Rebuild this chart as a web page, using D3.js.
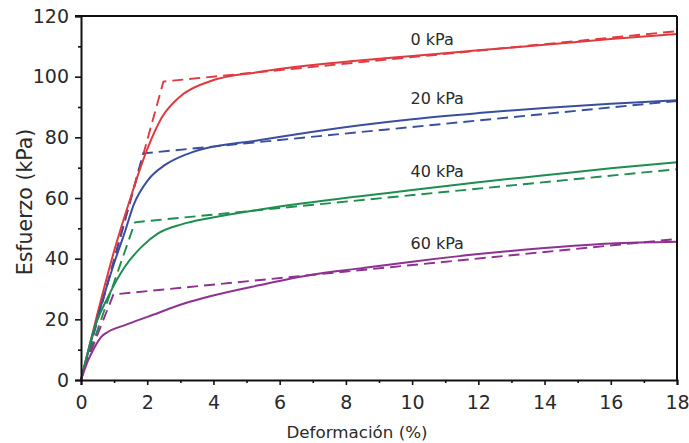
<!DOCTYPE html>
<html>
<head>
<meta charset="utf-8">
<script src="https://cdn.jsdelivr.net/npm/d3@7"></script>
<style>
  body { margin: 0; background: #fff; }
  svg { display: block; }
  text { font-family: "DejaVu Sans", sans-serif; fill: #2a2a2a; }
</style>
</head>
<body>
<svg id="chart" width="689" height="443"></svg>
<script>
// ---- Data ----
const xTicks = [0, 2, 4, 6, 8, 10, 12, 14, 16, 18];
const yTicks = [0, 20, 40, 60, 80, 100, 120];
const seriesNames = ["0 kPa", "20 kPa", "40 kPa", "60 kPa"];
const seriesColors = ["#e03a40", "#3a4e9e", "#1e8e50", "#8e3192"];

// measured curves (solid)
const strain0 = [0, 0.5, 1.0, 1.48, 1.98, 2.44, 3.0, 3.9, 5.4, 8.4, 10, 12, 14, 16, 18];
const stress0 = [0, 22, 42.5, 59.5, 75.5, 86.5, 93.5, 98.5, 101.6, 105.3, 106.8, 108.7, 110.5, 112.4, 114.1];

const strain20 = [0, 0.5, 1.0, 1.3, 1.6, 2.03, 2.54, 3.14, 3.39, 5.41, 8.43, 10, 12, 14, 16, 18];
const stress20 = [0, 20.5, 38.5, 48, 58, 66, 70.9, 74.2, 75.2, 79.1, 84, 86, 88, 89.7, 91.1, 92.2];

const strain40 = [0, 0.42, 0.82, 1.33, 1.83, 2.34, 3.04, 3.9, 5.41, 8.43, 10, 12, 14, 16, 18];
const stress40 = [0, 17.6, 27.5, 37.4, 43.9, 48.4, 51.3, 53.4, 56.2, 60.6, 62.6, 65.2, 67.5, 69.8, 71.8];

const strain60 = [0, 0.22, 0.42, 0.62, 0.82, 1.33, 2.03, 3.14, 3.9, 5.41, 6.92, 8.43, 10, 12, 14, 16, 18];
const stress60 = [0, 6.6, 11, 14.3, 15.9, 18.1, 20.9, 25.3, 27.6, 31.3, 34.6, 36.8, 39, 41.5, 43.5, 45, 45.6];

// bilinear idealisations (dashed)
const dashStrain0 = [0.1, 2.49, 18];
const dashStress0 = [4, 98.4, 115];
const dashStrain20 = [0.1, 1.88, 18];
const dashStress20 = [4, 74.7, 92];
const dashStrain40 = [0.1, 1.63, 18];
const dashStress40 = [4, 52, 69.5];
const dashStrain60 = [0.1, 0.98, 18];
const dashStress60 = [4, 28.2, 46.5];

// label anchors (data coords)
const labelX = [9.95, 9.95, 9.95, 9.95];
const labelY = [110.5, 91, 66.8, 43.3];

// ---- Chart ----
const W = 689, H = 443;
const margin = { left: 81, right: 12, top: 16, bottom: 63 };
const svg = d3.select("#chart");

const x = d3.scaleLinear().domain([0, 18]).range([margin.left, W - margin.right]);
const y = d3.scaleLinear().domain([0, 120]).range([H - margin.bottom, margin.top]);

const zip = (a, b) => a.map((v, i) => [v, b[i]]);
const solids = [zip(strain0, stress0), zip(strain20, stress20), zip(strain40, stress40), zip(strain60, stress60)];
const dashes = [zip(dashStrain0, dashStress0), zip(dashStrain20, dashStress20), zip(dashStrain40, dashStress40), zip(dashStrain60, dashStress60)];

const lineSmooth = d3.line().x(d => x(d[0])).y(d => y(d[1])).curve(d3.curveMonotoneX);
const lineStraight = d3.line().x(d => x(d[0])).y(d => y(d[1]));

// dashed lines
dashes.forEach((pts, i) => {
  svg.append("path").attr("d", lineStraight(pts))
    .attr("fill", "none").attr("stroke", seriesColors[i])
    .attr("stroke-width", 1.9).attr("stroke-dasharray", "11,6");
});
// solid lines
solids.forEach((pts, i) => {
  svg.append("path").attr("d", lineSmooth(pts))
    .attr("fill", "none").attr("stroke", seriesColors[i])
    .attr("stroke-width", 2);
});

// frame (top and right)
svg.append("line").attr("x1", x(0) - 6).attr("x2", x(18)).attr("y1", y(120)).attr("y2", y(120))
  .attr("stroke", "#111").attr("stroke-width", 2);
svg.append("line").attr("x1", x(18)).attr("x2", x(18)).attr("y1", y(120)).attr("y2", y(0))
  .attr("stroke", "#111").attr("stroke-width", 2);

// axes
const xAxis = d3.axisBottom(x).tickValues(xTicks).tickSize(5).tickPadding(11).tickFormat(d3.format("d"));
const xMinor = d3.axisBottom(x).tickValues(d3.range(1, 18, 2)).tickSize(3).tickFormat("");
const yAxis = d3.axisLeft(y).tickValues(yTicks).tickSize(6).tickPadding(6).tickFormat(d3.format("d"));
const yMinor = d3.axisLeft(y).tickValues(d3.range(10, 120, 20)).tickSize(3).tickFormat("");

function styleAxis(g) {
  g.select(".domain").attr("stroke", "#111").attr("stroke-width", 2);
  g.selectAll(".tick line").attr("stroke", "#111").attr("stroke-width", 1.6);
  g.selectAll(".tick text").style("font-family", "'DejaVu Sans', sans-serif").style("font-size", "19px").attr("fill", "#333");
}
svg.append("g").attr("transform", `translate(0,${y(0)})`).call(xAxis).call(styleAxis);
svg.append("g").attr("transform", `translate(0,${y(0)})`).call(xMinor).call(g => { g.select(".domain").remove(); g.selectAll(".tick line").attr("stroke", "#111").attr("stroke-width", 1.6); });
svg.append("g").attr("transform", `translate(${x(0)},0)`).call(yAxis).call(styleAxis);
svg.append("g").attr("transform", `translate(${x(0)},0)`).call(yMinor).call(g => { g.select(".domain").remove(); g.selectAll(".tick line").attr("stroke", "#111").attr("stroke-width", 1.6); });

// series labels
seriesNames.forEach((name, i) => {
  svg.append("text").attr("x", x(labelX[i])).attr("y", y(labelY[i]))
    .style("font-size", "16px").text(name);
});

// axis titles
svg.append("text").attr("x", 357).attr("y", 438)
  .attr("text-anchor", "middle").style("font-size", "16.7px").text("Deformación (%)");
svg.append("text").attr("transform", `translate(31.5,${(y(0) + y(120)) / 2 + 4}) rotate(-90)`)
  .attr("text-anchor", "middle").style("font-size", "20.5px").text("Esfuerzo (kPa)");
</script>
</body>
</html>
